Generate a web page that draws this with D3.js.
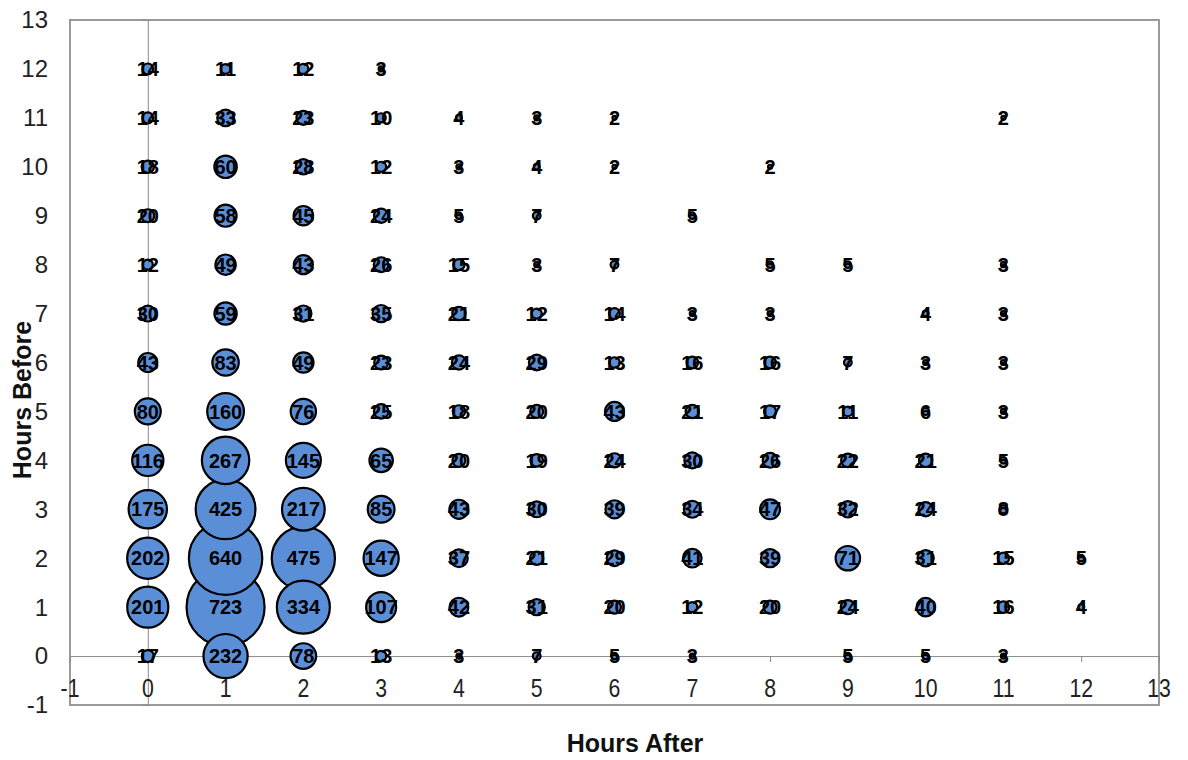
<!DOCTYPE html>
<html><head><meta charset="utf-8">
<script src="https://cdn.jsdelivr.net/npm/d3@7"></script>
<style>
html,body{margin:0;padding:0;background:#fff;}
svg{display:block;font-family:"Liberation Sans",Arial,sans-serif;}
</style></head>
<body>
<svg id="chart" width="1188" height="760"></svg>
<script>
// Hours After (x categories)
const hoursAfter = [0,1,2,3,4,5,6,7,8,9,10,11,12];
// Counts per "Hours Before" row, indexed by hoursAfter (null = no bubble)
const before0  = [17,232,78,13,3,7,5,3,null,5,5,3,null];
const before1  = [201,723,334,107,42,31,20,12,20,24,40,16,4];
const before2  = [202,640,475,147,37,21,29,41,39,71,31,15,5];
const before3  = [175,425,217,85,43,30,39,34,47,32,24,8,null];
const before4  = [116,267,145,65,20,19,24,30,26,22,21,5,null];
const before5  = [80,160,76,25,18,20,43,21,17,11,6,3,null];
const before6  = [43,83,49,23,24,29,13,16,16,7,3,3,null];
const before7  = [30,59,31,35,21,12,14,3,3,null,4,3,null];
const before8  = [12,49,43,26,15,3,7,null,5,5,null,3,null];
const before9  = [20,58,45,24,5,7,null,5,null,null,null,null,null];
const before10 = [18,60,28,12,3,4,2,null,2,null,null,null,null];
const before11 = [14,33,23,10,4,3,2,null,null,null,null,2,null];
const before12 = [14,11,12,3,null,null,null,null,null,null,null,null,null];
const rows = [before0,before1,before2,before3,before4,before5,before6,before7,before8,before9,before10,before11,before12];
const tickValues = [-1,0,1,2,3,4,5,6,7,8,9,10,11,12,13];

const points = [];
rows.forEach((row, yb) => row.forEach((v, i) => { if (v != null) points.push({x: hoursAfter[i], y: yb, v}); }));

const svg = d3.select("#chart");
const L = 70, R = 1159, T = 20, B = 705;
const x = d3.scaleLinear().domain([-1,13]).range([L,R]);
const y = d3.scaleLinear().domain([-1,13]).range([B,T]);
const r = d3.scaleSqrt().domain([0, d3.max(points, d => d.v)]).range([0,39]);

// plot border
svg.append("rect").attr("x",L).attr("y",T).attr("width",R-L).attr("height",B-T)
  .attr("fill","none").attr("stroke","#9a9a9a").attr("stroke-width",2);

// axis lines at zero
const xAxis = d3.axisBottom(x).tickValues(tickValues).tickSize(6).tickFormat("");
const gx = svg.append("g").attr("transform",`translate(0,${y(0)})`).call(xAxis);
gx.select(".domain").attr("stroke","#8a8a8a");
gx.selectAll(".tick line").attr("stroke","#8a8a8a");

const yAxis = d3.axisLeft(y).tickValues(tickValues).tickSize(6).tickFormat("");
const gy = svg.append("g").attr("transform",`translate(${x(0)},0)`).call(yAxis);
gy.select(".domain").attr("stroke","#8a8a8a");
gy.selectAll(".tick line").attr("stroke","#8a8a8a");

// x tick labels below the zero line (slightly condensed)
svg.append("g").selectAll("text").data(tickValues).join("text")
  .attr("transform",d=>`translate(${x(d)},688) scale(0.85,1)`)
  .attr("dy","0.35em").attr("text-anchor","middle")
  .attr("font-size",25).attr("fill","#222").text(d=>d);

// y tick labels at the left edge
svg.append("g").selectAll("text").data(tickValues).join("text")
  .attr("x",48).attr("y",d=>y(d)).attr("dy","0.35em").attr("text-anchor","end")
  .attr("font-size",24).attr("fill","#222").text(d=>d);

// bubbles
const sorted = points.slice().sort((a,b)=>b.v-a.v);
svg.append("g").selectAll("circle").data(sorted).join("circle")
  .attr("cx",d=>x(d.x)).attr("cy",d=>y(d.y)).attr("r",d=>r(d.v))
  .attr("fill","#5A8FD8").attr("stroke","#000").attr("stroke-width",2.2);

// labels
svg.append("g").selectAll("text").data(points).join("text")
  .attr("x",d=>x(d.x)).attr("y",d=>y(d.y)).attr("dy","0.36em").attr("text-anchor","middle")
  .attr("font-size",20).attr("font-weight","bold").attr("fill","#000").text(d=>d.v);

// axis titles
svg.append("text").attr("x",635).attr("y",752).attr("text-anchor","middle")
  .attr("font-size",25).attr("font-weight","bold").attr("fill","#111").text("Hours After");
svg.append("text").attr("transform","translate(31,400) rotate(-90)").attr("text-anchor","middle")
  .attr("font-size",25).attr("font-weight","bold").attr("fill","#111").text("Hours Before");
</script>
</body></html>
